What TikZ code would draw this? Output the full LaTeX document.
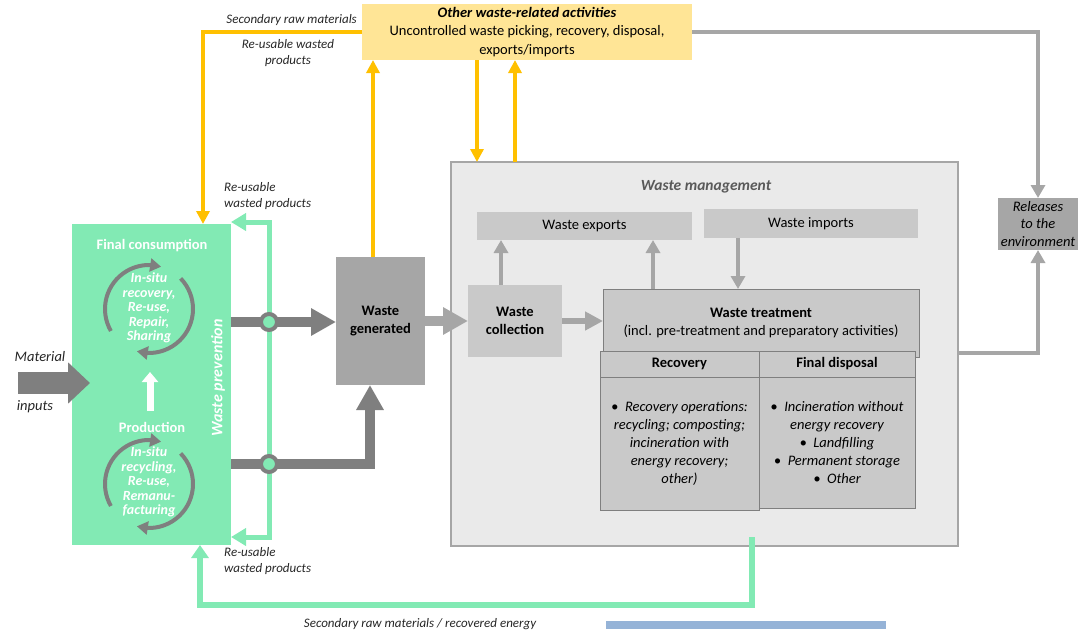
\documentclass[tikz,border=0pt]{standalone}
\usepackage{fontspec}
\setmainfont{Carlito}
\usetikzlibrary{arrows.meta,bending}

\definecolor{mint}{RGB}{130,234,180}
\definecolor{ylwfill}{RGB}{255,229,150}
\definecolor{ylwline}{RGB}{255,192,0}
\definecolor{gdark}{RGB}{127,127,127}
\definecolor{gmid}{RGB}{166,166,166}
\definecolor{glight}{RGB}{201,201,201}
\definecolor{gpale}{RGB}{234,234,234}
\definecolor{gtitle}{RGB}{89,89,89}
\definecolor{barblue}{RGB}{149,179,215}

\newcommand\bodyfs{\fontsize{14.5}{18}\selectfont}
\newcommand\labelfs{\fontsize{13}{15.5}\selectfont}
\newcommand\cyclefs{\fontsize{14}{14.5}\selectfont}

\begin{document}
\begin{tikzpicture}[x=1pt,y=-1pt,
  blk/.style={anchor=north west, inner sep=0pt, outer sep=0pt, align=center, font=\bodyfs},
  framed/.style={blk, fill=glight, draw=gdark, line width=1pt},
  lbl/.style={inner sep=0pt, align=left, font=\labelfs\itshape, text=black!85},
  whitetxt/.style={inner sep=0pt, text=white, align=center},
  ylw/.style={draw=ylwline, line width=4pt, -{Triangle[width=13pt,length=13pt]}},
  gthin/.style={draw=gmid, line width=4pt, -{Triangle[width=14pt,length=13pt]}},
  gthick/.style={draw=gdark, line width=10pt, -{Triangle[width=26pt,length=25pt]}},
  grnl/.style={draw=mint, line width=5pt},
  ring/.style={draw=gdark, line width=4pt, -{Triangle[width=13pt,length=11pt]}},
  junction/.style={circle, draw=gdark, line width=4pt, fill=mint, minimum size=16pt, inner sep=0pt}
]
\useasboundingbox (0,0) rectangle (1079,630);

% ---------- boxes ----------
\node[blk, fill=ylwfill, minimum width=330pt, minimum height=56pt, font=\fontsize{14.5}{18.5}\selectfont] (oth) at (362,4)
  {{\bfseries\itshape Other waste-related activities}\\Uncontrolled waste picking, recovery, disposal,\\exports/imports};

\node[blk, fill=mint, minimum width=159pt, minimum height=321pt] (gb) at (72,224) {};
\node[whitetxt, font=\fontsize{14.5}{18}\selectfont\bfseries] (fc) at (152,246) {Final consumption};
\node[whitetxt, font=\fontsize{14.5}{18}\selectfont\bfseries] (prod) at (152,427) {Production};
\node[whitetxt, rotate=90, font=\fontsize{16}{18}\selectfont\bfseries\itshape] (wp) at (218,378) {Waste prevention};

\coordinate (ring1) at (149,309);
\coordinate (ring2) at (149,484);
\node[whitetxt, font=\cyclefs\bfseries\itshape] (cyc1) at (149,308) {In-situ\\recovery,\\Re-use,\\Repair,\\Sharing};
\node[whitetxt, font=\cyclefs\bfseries\itshape] (cyc2) at (149,482) {In-situ\\recycling,\\Re-use,\\Remanu-\\facturing};

\node[blk, fill=gmid, minimum width=89pt, minimum height=128pt, font=\bodyfs\bfseries] (wg) at (336,257) {Waste\\generated};

\node[blk, fill=gpale, draw=gmid, line width=2pt, minimum width=507pt, minimum height=384pt] (wm) at (451,162) {};
\node[inner sep=0pt, font=\fontsize{15.5}{18}\selectfont\bfseries\itshape, text=gtitle] (wmt) at (706,187) {Waste management};

\node[blk, fill=glight, minimum width=215pt, minimum height=28pt] (wexp) at (477,212) {Waste exports};
\node[blk, fill=glight, minimum width=214pt, minimum height=29pt] (wimp) at (704,209) {Waste imports};
\node[blk, fill=glight, minimum width=94pt, minimum height=72pt, font=\bodyfs\bfseries] (wc) at (468,285) {Waste\\collection};

\node[framed, minimum width=316pt, minimum height=68pt] (wt) at (603,289)
  {{\bfseries Waste treatment}\\(incl. pre-treatment and preparatory activities)};
\node[framed, minimum width=159pt, minimum height=26pt, font=\bodyfs\bfseries] (rech) at (600,351) {Recovery};
\node[framed, minimum width=156pt, minimum height=26pt, font=\bodyfs\bfseries] (fdh) at (759,351) {Final disposal};
\node[framed, minimum width=159pt, minimum height=133pt, font=\bodyfs\itshape] (recb) at (600,377)
  {•~~Recovery operations:\\recycling; composting;\\incineration with\\energy recovery;\\other)};
\node[framed, minimum width=156pt, minimum height=131pt, font=\bodyfs\itshape] (fdb) at (759,377)
  {•~~Incineration without\\energy recovery\\•~~Landfilling\\•~~Permanent storage\\•~~Other};

\node[blk, fill=gmid, minimum width=80pt, minimum height=52pt, font=\fontsize{14.5}{17.5}\selectfont\itshape] (rel) at (998,198)
  {Releases\\to the\\environment};

% ---------- labels ----------
\node[lbl, anchor=east] (srmtop) at (357,20) {Secondary raw materials};
\node[lbl, align=center] (rwtop) at (288,53) {Re-usable wasted\\products};
\node[lbl, anchor=west] (rwa) at (224,196) {Re-usable\\wasted products};
\node[lbl, anchor=west] (rwb) at (224,561) {Re-usable\\wasted products};
\node[lbl, font=\bodyfs\itshape] (mat) at (40,357) {Material};
\node[lbl, font=\bodyfs\itshape] (inp) at (35,407) {inputs};
\node[lbl] (srmbot) at (420,624) {Secondary raw materials / recovered energy};

% ---------- cycles inside the prevention box (clockwise, y pointing up here) ----------
\foreach \ctr in {ring1,ring2}{
  \begin{scope}[shift={(\ctr)}, y=1pt]
    \draw[ring] (210:44) arc[start angle=210, end angle=74, radius=44];
    \draw[ring] (44:44) arc[start angle=44, end angle=-106, radius=44];
  \end{scope}
}

\coordinate (upfoot) at (150,411);
\coordinate (uphead) at (150,372);
\draw[white, line width=7pt, -{Triangle[width=16pt,length=10pt]}] (upfoot) -- (uphead);

% ---------- material inputs ----------
\coordinate (matin) at (18,383);
\draw[gdark, line width=22pt, -{Triangle[width=40pt,length=22pt]}, shorten >=-18pt] (matin) -- (matin -| gb.west);

% ---------- re-usable wasted products loop ----------
\draw[grnl, {Triangle[width=17pt,length=15pt]}-{Triangle[width=17pt,length=15pt]}]
  (gb.east |- 0,222) -| (269,380) |- (gb.east |- 0,537);

% ---------- waste flows ----------
\draw[gthick] (gb.east |- 0,322) -- (wg.west |- 0,322);
\draw[gthick] (gb.east |- 0,464) -| (370,0 |- wg.south);
\node[junction] (j1) at (269,322) {};
\node[junction] (j2) at (269,464) {};

\draw[draw=gmid, line width=10pt, -{Triangle[width=26pt,length=25pt]}] (wg.east) -- (wc.west);
\draw[draw=gmid, line width=6pt, -{Triangle[width=18pt,length=18pt]}] (wc.east) -- (wt.west |- wc.east);
\draw[gthin] (501,0 |- wc.north) -- (501,0 |- wexp.south);
\draw[gthin] (653,0 |- wt.north) -- (653,0 |- wexp.south);
\draw[gthin] (738,0 |- wimp.south) -- (738,0 |- wt.north);

% ---------- other waste-related activities ----------
\draw[ylw] (oth.west) -| (203,0 |- gb.north);
\draw[ylw] (373,0 |- wg.north) -- (373,0 |- oth.south);
\draw[ylw] (477,0 |- oth.south) -- (477,0 |- wm.north);
\draw[ylw] (515,0 |- wm.north) -- (515,0 |- oth.south);

% ---------- releases ----------
\draw[gthin] (oth.east) -| (rel.north);
\draw[gthin] (wm.east |- 0,353) -| (rel.south);

% ---------- secondary raw materials back to prevention ----------
\coordinate (srmsrc) at (752,537);
\draw[grnl, line width=6pt, -{Triangle[width=17pt,length=13pt]}] (srmsrc) -- (752,605) -| (200,0 |- gb.south);

\fill[barblue] (606,621) rectangle (886,629);
\end{tikzpicture}
\end{document}
